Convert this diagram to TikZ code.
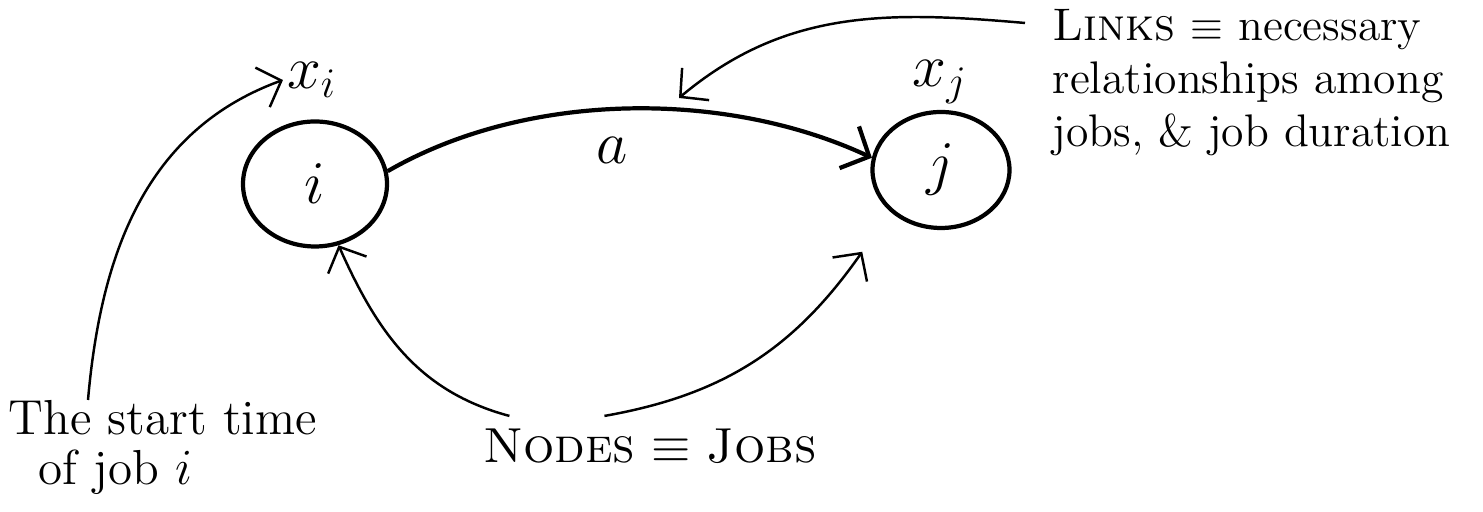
\documentclass[tikz,border=0pt]{standalone}
\usepackage{amsmath,amssymb}
\usetikzlibrary{arrows.meta,positioning,shapes.geometric}
\tikzset{jobnode/.style={ellipse,draw,very thick,inner sep=0pt,
  font=\fontsize{17}{20}\selectfont},
  mathlabel/.style={inner sep=1pt,font=\fontsize{17}{20}\selectfont},
  notetext/.style={inner sep=0pt,align=left},
  linkarrow/.style={-{Straight Barb[length=2.2mm,width=4.6mm]},very thick},
  notearrow/.style={-{Straight Barb[length=2mm,width=4.2mm]},line width=.7pt}}

\begin{document}
\begin{tikzpicture}
\useasboundingbox (0,0) rectangle (14.83,5.12);
\node[jobnode,minimum width=14.4mm,minimum height=12.5mm] (i) at (3.15,3.28) {$i$};
\node[jobnode,minimum width=13.7mm,minimum height=11.6mm] (j) at (9.41,3.42) {$j$};
\node[mathlabel] (xi) at (3.12,4.32) {$x_i$};
\node[mathlabel] (xj) at (9.40,4.30) {$x_j$};
\node[mathlabel] (alabel) at (6.12,3.62) {$a$};
\node[notetext,anchor=north west,font=\fontsize{13}{15}\selectfont] (links)
  at (10.52,5.03) {\textsc{Links} $\equiv$ necessary\\relationships among\\jobs, \& job duration};
\node[notetext,anchor=north west,font=\fontsize{14}{14}\selectfont] (start)
  at (0.08,1.12) {The start time\\\hspace*{3mm}of job $i$};
\node[notetext,font=\fontsize{14}{16}\selectfont] (nodes) at (6.50,0.66)
  {\textsc{Nodes} $\equiv$ \textsc{Jobs}};
\coordinate (arctop) at (6.79,4.14);
\draw[linkarrow] (i.10) to[out=30,in=155,looseness=.85] (j.170);
\draw[notearrow] ([shift={(-.27,-.14)}]links.north west) to[out=175,in=40] (arctop);
\draw[notearrow] ([xshift=8mm]start.north west) to[out=85,in=200] (xi.west);
\draw[notearrow] ([shift={(.27,.12)}]nodes.north west) to[out=165,in=-66] (i.-69);
\draw[notearrow] ([shift={(1.22,.12)}]nodes.north west) to[out=10,in=-125]
  ([xshift=-3.3mm,yshift=-3.6mm]j.-135);
\end{tikzpicture}
\end{document}
